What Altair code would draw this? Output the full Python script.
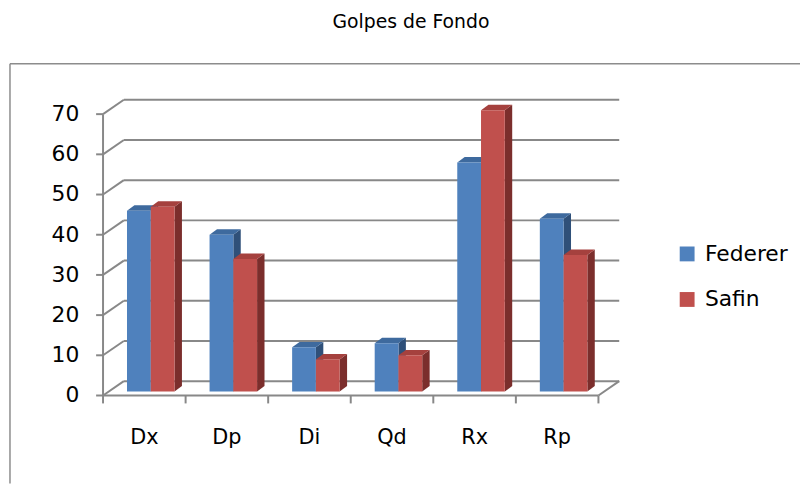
import altair as alt
import pandas as pd

# ---- data ----
categories = ["Dx", "Dp", "Di", "Qd", "Rx", "Rp"]
federer = [45, 39, 11, 12, 57, 43]
safin = [46, 33, 8, 9, 70, 34]
series_names = ["Federer", "Safin"]
y_ticks = [0, 10, 20, 30, 40, 50, 60, 70]
chart_title = "Golpes de Fondo"

# ---- styling / geometry (pixels converted to data units) ----
FRONT = ["#4F81BD", "#C0504D"]
TOP = ["#3E6A9E", "#A5413E"]
SIDE = ["#2F5079", "#7B2E2C"]
GRID = "#888888"
FONT = "DejaVu Sans"

PX_X = 83.4           # pixels per category
PX_Y = 4.06           # pixels per value unit
W, H = 798, 424       # view = outer frame
X0_PX, Y0_PX = 94, 335
XMIN = -X0_PX / PX_X
XMAX = XMIN + W / PX_X
YMAX = Y0_PX / PX_Y
YMIN = YMAX - H / PX_Y
BX, BY = 21 / PX_X, 14.5 / PX_Y      # back wall depth
OFF, BOY = 6.5 / PX_X, 4 / PX_Y      # bar front offset (mid depth)
BW = 24 / PX_X                        # bar width
DX, DY = 7.5 / PX_X, 5.5 / PX_Y       # bar depth
TICK_X, TICK_Y = 7 / PX_X, 8 / PX_Y
n = len(categories)
ymax_tick = y_ticks[-1]

# ---- structural lines ----
lines = []
for v in y_ticks:
    lines.append(dict(x=BX, x2=n + BX, y=v + BY, y2=v + BY))        # back wall grid
    lines.append(dict(x=0, x2=BX, y=v, y2=v + BY))                 # side wall diagonal
    lines.append(dict(x=-TICK_X, x2=0, y=v, y2=v))                 # y tick
lines.append(dict(x=0, x2=0, y=0, y2=ymax_tick))                   # front y axis
lines.append(dict(x=0, x2=n, y=0, y2=0))                           # floor front edge
lines.append(dict(x=n, x2=n + BX, y=0, y2=BY))                     # floor right edge
for i in range(n + 1):
    lines.append(dict(x=i, x2=i, y=0, y2=-TICK_Y))                 # x ticks
lines_df = pd.DataFrame(lines)

frame_df = pd.DataFrame([
    dict(x=XMIN, x2=XMAX, y=YMAX, y2=YMAX),
    dict(x=XMIN, x2=XMIN, y=YMIN, y2=YMAX),
])

# ---- bars ----
def bar_parts(values, s):
    fronts, faces = [], []
    for i, v in enumerate(values):
        c = i + 0.5 + OFF
        xl = c - BW if s == 0 else c
        xr = xl + BW
        b, t = BOY, v + BOY
        fronts.append(dict(cat=categories[i], series=series_names[s], value=v,
                           x=xl, x2=xr, y=b, y2=t))
        sid = f"{s}-{i}-side"
        faces += [
            dict(id=sid, x=xr, y=t, y2=b, fill=SIDE[s]),
            dict(id=sid, x=xr + DX, y=t + DY, y2=b + DY, fill=SIDE[s]),
        ]
        tid = f"{s}-{i}-top"
        faces += [
            dict(id=tid, x=xl, y=t, y2=t, fill=TOP[s]),
            dict(id=tid, x=xl + DX, y=t + DY, y2=t, fill=TOP[s]),
            dict(id=tid, x=xr, y=t + DY, y2=t, fill=TOP[s]),
            dict(id=tid, x=xr + DX, y=t + DY, y2=t + DY, fill=TOP[s]),
        ]
    return pd.DataFrame(fronts), pd.DataFrame(faces)

fed_front, fed_faces = bar_parts(federer, 0)
saf_front, saf_faces = bar_parts(safin, 1)

xs = alt.Scale(domain=[XMIN, XMAX], nice=False, zero=False)
ys = alt.Scale(domain=[YMIN, YMAX], nice=False, zero=False)

def X(f="x"):
    return alt.X(f"{f}:Q", scale=xs, axis=None)

def Y(f="y"):
    return alt.Y(f"{f}:Q", scale=ys, axis=None, stack=None)

grid = alt.Chart(lines_df).mark_rule(color=GRID, strokeWidth=2).encode(
    x=X(), x2="x2", y=Y(), y2="y2")
frame = alt.Chart(frame_df).mark_rule(color="#8C8C8C", strokeWidth=1.5).encode(
    x=X(), x2="x2", y=Y(), y2="y2")

color = alt.Color(
    "series:N",
    scale=alt.Scale(domain=series_names, range=FRONT),
    legend=alt.Legend(
        orient="none", legendX=673, legendY=181, title=None,
        symbolType="square", symbolSize=225, symbolStrokeWidth=0,
        symbolOpacity=1, labelFontSize=22, labelFont=FONT,
        labelColor="black", rowPadding=24, labelOffset=7,
    ),
)

def faces_layer(df):
    return alt.Chart(df).mark_area(orient="vertical", opacity=1).encode(
        x=X(), y=Y(), y2="y2", detail="id:N",
        fill=alt.Fill("fill:N", scale=None))

def front_layer(df):
    return alt.Chart(df).mark_rect(opacity=1).encode(
        x=X(), x2="x2", y=Y(), y2="y2", color=color,
        tooltip=["cat:N", "series:N", "value:Q"])

ylab_df = pd.DataFrame({"v": y_ticks, "label": [str(v) for v in y_ticks]})
ylabels = alt.Chart(ylab_df).mark_text(
    align="right", baseline="middle", font=FONT, fontSize=22, color="black"
).encode(x=alt.value(94 - 24), y=Y("v"), text="label:N")

xlab_df = pd.DataFrame({"cat": categories, "pos": [i + 0.5 for i in range(n)],
                        "ypos": [-43 / PX_Y] * n})
xlabels = alt.Chart(xlab_df).mark_text(
    align="center", baseline="middle", font=FONT, fontSize=21, color="black"
).encode(x=X("pos"), y=Y("ypos"), text="cat:N")

chart = alt.layer(
    frame, grid,
    faces_layer(fed_faces), front_layer(fed_front),
    faces_layer(saf_faces), front_layer(saf_front),
    ylabels, xlabels,
).properties(
    width=W, height=H,
    title=alt.Title(chart_title, fontSize=19, font=FONT, fontWeight="normal",
                    anchor="middle", offset=31, dx=6, color="black"),
    autosize=alt.AutoSizeParams(type="none"),
    padding={"left": 2, "top": 54, "right": 0, "bottom": 0},
).configure_view(stroke=None)

chart.save("out.html", embed_options={"renderer": "svg", "actions": False})
